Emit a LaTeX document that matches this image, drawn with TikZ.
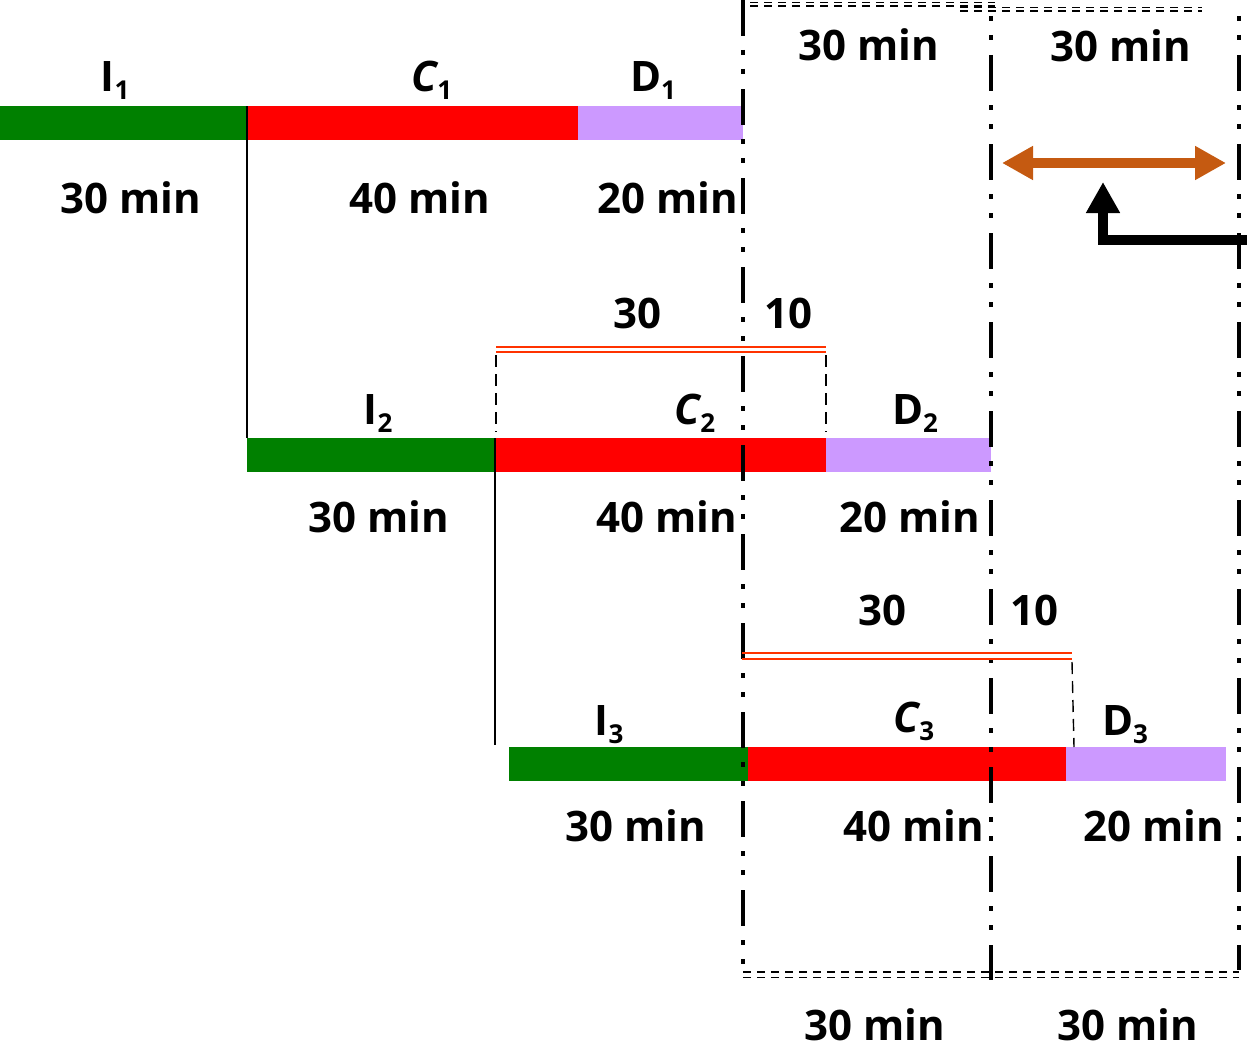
\documentclass[tikz,border=0pt]{standalone}
\usepackage{fontspec}
\setmainfont{Open Sans}
\usetikzlibrary{arrows.meta}
\definecolor{bgreen}{HTML}{008000}
\definecolor{bred}{HTML}{FF0000}
\definecolor{blilac}{HTML}{CC99FF}
\definecolor{borange}{HTML}{C55A11}
\definecolor{dred}{HTML}{FF3300}
\newcommand{\sublab}[2]{{#1}\raisebox{-8pt}{\fontsize{26}{26}\selectfont\upshape #2}}
\tikzset{
  bar/.style={draw=none, inner sep=0pt, outer sep=0pt, minimum height=34pt, anchor=north west},
  txt/.style={font=\fontsize{42}{48}\selectfont\bfseries, inner sep=0pt, anchor=base},
  divline/.style={line width=4pt, dash pattern=on 36pt off 14pt on 5pt off 14pt on 5pt off 15pt},
  ddash/.style={line width=1.8pt, dash pattern=on 8pt off 6pt},
  thinline/.style={line width=1.2pt},
  redd/.style={draw=dred, line width=2pt},
  vdash/.style={line width=1.4pt, dash pattern=on 12pt off 7pt},
  tipbig/.tip={Triangle[length=31pt,width=32pt]}
}
\begin{document}
\begin{tikzpicture}[x=1pt,y=-1pt]
\useasboundingbox (0,0) rectangle (1247,1049);
% bars
\node[bar, fill=bgreen, minimum width=247pt] (i1) at (0,106) {};
\node[bar, fill=bred, minimum width=331pt] (c1) at (247,106) {};
\node[bar, fill=blilac, minimum width=165pt] (d1) at (578,106) {};
\node[bar, fill=bgreen, minimum width=248pt] (i2) at (247,438) {};
\node[bar, fill=bred, minimum width=331pt] (c2) at (495,438) {};
\node[bar, fill=blilac, minimum width=165pt] (d2) at (826,438) {};
\node[bar, fill=bgreen, minimum width=239pt] (i3) at (509,747) {};
\node[bar, fill=bred, minimum width=318pt] (c3) at (748,747) {};
\node[bar, fill=blilac, minimum width=160pt] (d3) at (1066,747) {};
% thin connectors
\coordinate (e2) at (495,745);
\draw[thinline] (i1.north east) -- (i2.north west);
\draw[thinline] (i2.north east) -- (e2);
% stage labels
\node[txt] (li1) at (115,92) {\sublab{I}{1}};
\node[txt] (lc1) at (432,92) {\sublab{\itshape C}{1}};
\node[txt] (ld1) at (653,92) {\sublab{D}{1}};
\node[txt] (li2) at (378,424) {\sublab{I}{2}};
\node[txt] (lc2) at (695,424) {\sublab{\itshape C}{2}};
\node[txt] (ld2) at (915,424) {\sublab{D}{2}};
\node[txt] (li3) at (609,735) {\sublab{I}{3}};
\node[txt] (lc3) at (914,732) {\sublab{\itshape C}{3}};
\node[txt] (ld3) at (1125,735) {\sublab{D}{3}};
% durations
\node[txt] (m11) at (131,213) {30 min};
\node[txt] (m12) at (420,213) {40 min};
\node[txt] (m13) at (668,213) {20 min};
\node[txt] (m21) at (379,532) {30 min};
\node[txt] (m22) at (667,532) {40 min};
\node[txt] (m23) at (910,532) {20 min};
\node[txt] (m31) at (636,841) {30 min};
\node[txt] (m32) at (914,841) {40 min};
\node[txt] (m33) at (1154,841) {20 min};
\node[txt] (mt1) at (869,60) {30 min};
\node[txt] (mt2) at (1121,62) {30 min};
\node[txt] (mb1) at (875,1040) {30 min};
\node[txt] (mb2) at (1128,1040) {30 min};
\node[txt] (n30a) at (637,328) {30};
\node[txt] (n10a) at (788,328) {10};
\node[txt] (n30b) at (882,625) {30};
\node[txt] (n10b) at (1034,625) {10};
% dividers
\draw[divline] (743,0) -- (743,978);
\draw[divline, dash phase=42pt] (991,8) -- (991,980);
\draw[divline, dash phase=42pt] (1239,8) -- (1239,970);
% double dashed horizontals
\draw[ddash] (750,2.5) -- (995,2.5);
\draw[ddash] (750,6) -- (995,6);
\draw[ddash] (960,7.5) -- (1202,7.5);
\draw[ddash] (960,11) -- (1202,11);
\draw[ddash] (743,972) -- (1239,972);
\draw[ddash] (743,977.5) -- (1239,977.5);
% overlap brackets
\draw[redd] (496,347) -- (826,347);
\draw[redd] (496,352) -- (826,352);
\draw[vdash] (496,355) -- (496,432);
\draw[vdash] (826,355) -- (826,432);
\draw[redd] (742,653) -- (1072,653);
\draw[redd] (742,659) -- (1072,659);
\draw[vdash] (1072,662) -- (1074,747);
% arrows
\coordinate (oal) at (1002,163);
\coordinate (oar) at (1226,163);
\draw[line width=10pt, draw=borange, tipbig-tipbig] (oal) -- (oar);
\coordinate (bas) at (1255,240);
\coordinate (bat) at (1103,182);
\draw[line width=10pt, -tipbig] (bas) -| (bat);
\end{tikzpicture}
\end{document}
